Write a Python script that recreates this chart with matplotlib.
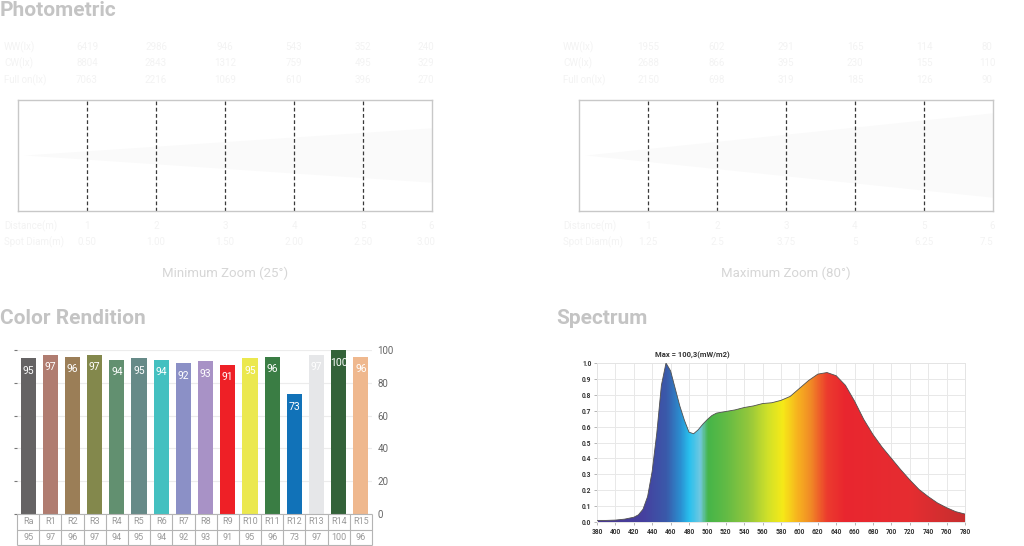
import numpy as np
import matplotlib.pyplot as plt
from matplotlib.colors import LinearSegmentedColormap
from matplotlib.patches import Polygon

plt.rcParams['font.family'] = ['Roboto', 'DejaVu Sans']

# photometric tables
distances = [1, 2, 3, 4, 5, 6]
min_ww = [6419, 2986, 946, 543, 352, 240]
min_cw = [8804, 2843, 1312, 759, 495, 329]
min_full = [7063, 2216, 1069, 610, 396, 270]
min_spot = ['0.50', '1.00', '1.50', '2.00', '2.50', '3.00']
max_ww = [1955, 602, 291, 165, 114, 80]
max_cw = [2688, 866, 395, 230, 155, 110]
max_full = [2150, 698, 319, 185, 126, 90]
max_spot = ['1.25', '2.5', '3.75', '5', '6.25', '7.5']

# color rendition
cri_labels = ['Ra', 'R1', 'R2', 'R3', 'R4', 'R5', 'R6', 'R7', 'R8', 'R9',
              'R10', 'R11', 'R12', 'R13', 'R14', 'R15']
cri_values = [95, 97, 96, 97, 94, 95, 94, 92, 93, 91, 95, 96, 73, 97, 100, 96]
cri_colors = ['#656364', '#b07c70', '#9b7e57', '#83884c', '#629070', '#668a88',
              '#43c0c0', '#8b90c6', '#a892c6', '#ee2026', '#ebe84e', '#3a7d44',
              '#1172b8', '#e6e7e9', '#336239', '#efb88e']

# spectrum (relative)
wavelength = [380, 390, 400, 410, 420, 425, 430, 435, 440, 445, 450, 455, 460,
              465, 470, 475, 480, 485, 490, 495, 500, 505, 510, 520, 530, 540,
              550, 560, 570, 580, 590, 600, 610, 620, 630, 640, 650, 660, 670,
              680, 690, 700, 710, 720, 730, 740, 750, 760, 770, 780]
intensity = [0.01, 0.01, 0.012, 0.018, 0.03, 0.045, 0.08, 0.16, 0.32, 0.56,
             0.86, 1.0, 0.95, 0.84, 0.73, 0.64, 0.565, 0.555, 0.58, 0.615,
             0.645, 0.67, 0.685, 0.695, 0.705, 0.72, 0.73, 0.745, 0.75, 0.765,
             0.79, 0.84, 0.89, 0.93, 0.94, 0.92, 0.86, 0.76, 0.645, 0.55, 0.47,
             0.40, 0.33, 0.265, 0.205, 0.16, 0.12, 0.09, 0.065, 0.05]
spec_ticks = list(range(380, 781, 20))

W, H = 1024, 546
fig = plt.figure(figsize=(W / 100, H / 100), dpi=100)


def px_axes(x0, y0, x1, y1):
    return fig.add_axes([x0 / W, 1 - y1 / H, (x1 - x0) / W, (y1 - y0) / H])


txt = fig.add_axes([0, 0, 1, 1], zorder=5)
txt.set_xlim(0, W)
txt.set_ylim(H, 0)
txt.axis('off')

title_kw = dict(fontsize=15, fontweight='bold', color='#c4c4c4', va='center', ha='left')
txt.text(0, 11, 'Photometric', **title_kw)
txt.text(0, 319, 'Color Rendition', **title_kw)
txt.text(556, 319, 'Spectrum', **title_kw)


def photometric(x0, x1, lab_x, ww, cw, full, spot, caption, spread):
    ax = px_axes(x0, 100, x1, 211)
    ax.set_xlim(0, 6)
    ax.set_ylim(-1, 1)
    ax.set_xticks([])
    ax.set_yticks([])
    for s in ax.spines.values():
        s.set_color('#c8c8c8')
        s.set_linewidth(1)
    for d in distances[:-1]:
        ax.axvline(d, color='#3a3a3a', lw=0.9, ls=(0, (3, 2)))
    # faint beam cone
    t = np.linspace(-np.pi / 2, np.pi / 2, 30)
    cap = np.column_stack([6 + 0.15 * np.cos(t), spread * np.sin(t)])
    verts = np.vstack([[[0.1, 0]], cap[::-1]])
    ax.add_patch(Polygon(verts, closed=True, facecolor='#fafafa',
                         edgecolor='none', zorder=0))
    cols = [x0 + (x1 - x0) * d / 6 for d in distances]
    cols[-1] -= 6
    kw = dict(fontsize=7, color='#f3f3f3', va='center')
    for y, name, vals in [(47, 'WW(lx)', ww), (63, 'CW(lx)', cw),
                          (80, 'Full on(lx)', full)]:
        txt.text(lab_x, y, name, ha='left', **kw)
        for cx, v in zip(cols, vals):
            txt.text(cx, y, str(v), ha='center', **kw)
    txt.text(lab_x, 226, 'Distance(m)', ha='left', **kw)
    txt.text(lab_x, 242, 'Spot Diam(m)', ha='left', **kw)
    for cx, d, s in zip(cols, distances, spot):
        txt.text(cx + 5 if d == 6 else cx, 226, str(d), ha='center', **kw)
        txt.text(cx, 242, s, ha='center', **kw)
    txt.text((x0 + x1) / 2, 273, caption, ha='center', va='center',
             fontsize=9.5, color='#d6d6d6')


photometric(18, 432, 4, min_ww, min_cw, min_full, min_spot,
            'Minimum Zoom (25°)', 0.49)
photometric(579, 993, 563, max_ww, max_cw, max_full, max_spot,
            'Maximum Zoom (80°)', 0.76)

# color rendition bars
ax = px_axes(17, 350, 372, 514)
x = np.arange(len(cri_values))
ax.bar(x, cri_values, width=0.68, color=cri_colors, zorder=2)
for i, v in enumerate(cri_values):
    ax.annotate(str(v), (i, v), xytext=(0, -9), textcoords='offset points',
                ha='center', va='center', color='white', fontsize=7.5)
ax.set_xlim(-0.5, len(cri_values) - 0.5)
ax.set_ylim(0, 100)
ax.set_yticks(range(0, 101, 20))
ax.set_xticks([])
ax.tick_params(axis='y', left=True, right=False, labelleft=False,
               labelright=True, length=2, width=0.8, color='#777777',
               labelcolor='#666666', labelsize=7, pad=2)
ax.yaxis.grid(True, color='#ececec', lw=0.8)
ax.set_axisbelow(True)
for s in ax.spines.values():
    s.set_visible(False)

tab = px_axes(17, 514, 372, 545)
tab.set_xlim(-0.5, len(cri_values) - 0.5)
tab.set_ylim(2, 0)
tab.axis('off')
tab.hlines([0, 1, 2], -0.5, len(cri_values) - 0.5, color='#b4b4b4', lw=0.8,
           clip_on=False)
tab.vlines(np.arange(-0.5, len(cri_values)), 0, 2, color='#b4b4b4', lw=0.8,
           clip_on=False)
for i, (n, v) in enumerate(zip(cri_labels, cri_values)):
    tab.text(i, 0.5, n, ha='center', va='center', fontsize=6.5, color='#9a9a9a')
    tab.text(i, 1.5, str(v), ha='center', va='center', fontsize=6.5,
             color='#9a9a9a')

# spectrum
sp = px_axes(597, 363, 965, 522)
sp.set_xlim(380, 780)
sp.set_ylim(0, 1.0)
stops = [(380, '#4b3a92'), (430, '#46409f'), (455, '#3a5aaa'), (470, '#2b8ed0'),
         (480, '#28c0ee'), (492, '#72c8e0'), (500, '#45b549'), (520, '#62bb45'),
         (545, '#94c73c'), (565, '#cfe02a'), (582, '#f6ea18'), (598, '#f7b31f'),
         (612, '#f18c26'), (630, '#ec3c2e'), (650, '#e9262f'), (720, '#e62d31'),
         (780, '#c62f2f')]
cmap = LinearSegmentedColormap.from_list(
    'spec', [((w - 380) / 400, c) for w, c in stops])
grad = np.linspace(0, 1, 800).reshape(1, -1)
im = sp.imshow(grad, extent=[380, 780, 0, 1], aspect='auto', cmap=cmap,
               origin='lower', zorder=2)
verts = np.column_stack([np.r_[wavelength, wavelength[::-1]],
                         np.r_[intensity, np.zeros(len(intensity))]])
clip = Polygon(verts, closed=True, facecolor='none', edgecolor='none',
               transform=sp.transData)
sp.add_patch(clip)
im.set_clip_path(clip)
sp.plot(wavelength, intensity, color='#505050', lw=0.6, zorder=3)
sp.set_xticks(spec_ticks)
sp.set_yticks(np.round(np.arange(0, 1.01, 0.1), 1))
sp.yaxis.set_major_formatter(plt.FormatStrFormatter('%.1f'))
sp.tick_params(labelsize=4.8, length=2, width=0.5, color='#999999',
               labelcolor='#333333', pad=2)
for lab in sp.get_xticklabels() + sp.get_yticklabels():
    lab.set_fontweight('bold')
sp.grid(True, color='#e8e8e8', lw=0.7)
sp.set_axisbelow(True)
for s in sp.spines.values():
    s.set_color('#e4e4e4')
    s.set_linewidth(0.7)
txt.text(692, 355, 'Max = 100,3(mW/m2)', ha='center', va='center',
         fontsize=5.5, fontweight='bold', color='#333333')

fig.savefig('out.png', dpi=100)
